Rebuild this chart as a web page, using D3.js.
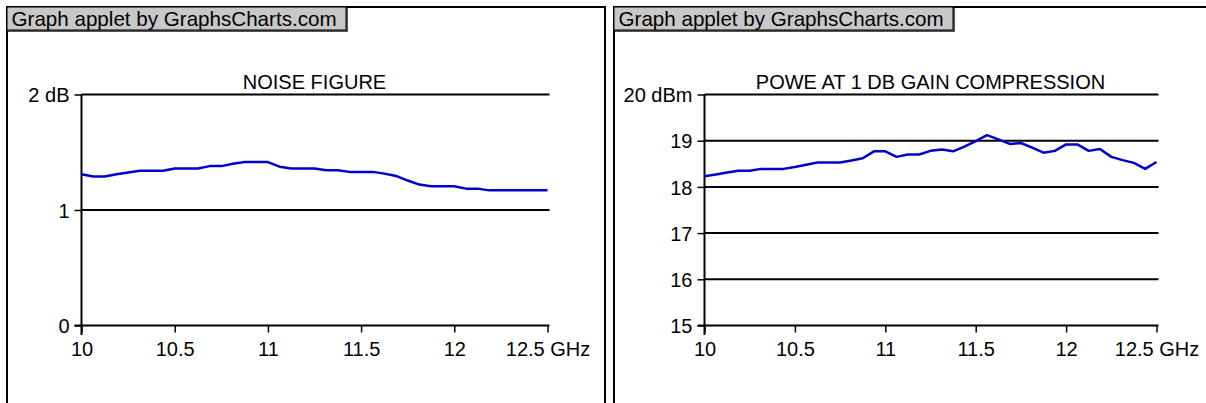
<!DOCTYPE html>
<html>
<head>
<meta charset="utf-8">
<script src="https://cdn.jsdelivr.net/npm/d3@7"></script>
<style>
  body { margin: 0; background: #fff; }
  svg { display: block; font-family: "Liberation Sans", Arial, sans-serif; }
</style>
</head>
<body>
<div id="chart"></div>
<script>
// frequency points (GHz), shared by both charts
const freqs = [10, 10.0625, 10.125, 10.1875, 10.25, 10.3125, 10.375, 10.4375, 10.5, 10.5625,
  10.625, 10.6875, 10.75, 10.8125, 10.875, 10.9375, 11, 11.0625, 11.125, 11.1875,
  11.25, 11.3125, 11.375, 11.4375, 11.5, 11.5625, 11.625, 11.6875, 11.75, 11.8125,
  11.875, 11.9375, 12, 12.0625, 12.125, 12.1875, 12.25, 12.3125, 12.375, 12.4375, 12.5];

// noise figure (dB)
const noiseFigure = [1.31, 1.29, 1.29, 1.31, 1.325, 1.34, 1.34, 1.34, 1.36, 1.36,
  1.36, 1.38, 1.38, 1.40, 1.415, 1.415, 1.415, 1.375, 1.36, 1.36,
  1.36, 1.345, 1.345, 1.33, 1.33, 1.33, 1.315, 1.295, 1.255, 1.22,
  1.205, 1.205, 1.205, 1.185, 1.185, 1.17, 1.17, 1.17, 1.17, 1.17, 1.17];

// output power at 1 dB gain compression (dBm)
const p1dB = [18.23, 18.27, 18.31, 18.35, 18.35, 18.39, 18.39, 18.39, 18.43, 18.48,
  18.53, 18.53, 18.53, 18.57, 18.62, 18.77, 18.77, 18.65, 18.70, 18.70,
  18.78, 18.81, 18.77, 18.87, 18.99, 19.12, 19.03, 18.93, 18.95, 18.85,
  18.74, 18.78, 18.92, 18.92, 18.78, 18.82, 18.65, 18.58, 18.52, 18.39, 18.54];

const xTicks = [10, 10.5, 11, 11.5, 12, 12.5];
const xTickLabels = ["10", "10.5", "11", "11.5", "12", "12.5 GHz"];

const nfTicks = [0, 1, 2];
const nfTickLabels = ["0", "1", "2 dB"];

const pTicks = [15, 16, 17, 18, 19, 20];
const pTickLabels = ["15", "16", "17", "18", "19", "20 dBm"];

const width = 1206, height = 403;
const svg = d3.select("#chart").append("svg")
  .attr("width", width)
  .attr("height", height);

// one applet panel with its own scales
function drawPanel(opt) {
  const g = svg.append("g");

  // applet frame (runs past the bottom of the window)
  g.append("path")
    .attr("d", `M${opt.left},${height + 5} V7 H${opt.right}` + (opt.closed ? ` V${height + 5}` : ""))
    .attr("fill", "none")
    .attr("stroke", "#000")
    .attr("stroke-width", 2);

  // credit box
  const hb = g.append("g").attr("transform", `translate(${opt.left},7)`);
  hb.append("rect")
    .attr("x", 1).attr("y", 1)
    .attr("width", 340).attr("height", 24)
    .attr("fill", "#555");
  hb.append("rect")
    .attr("x", 0).attr("y", 0)
    .attr("width", 339).attr("height", 23)
    .attr("fill", "#c8c8c8")
    .attr("stroke", "#000")
    .attr("stroke-width", 1);
  hb.append("text")
    .attr("x", 4.5).attr("y", 19)
    .attr("font-size", 20.6)
    .attr("fill", "#000")
    .text("Graph applet by GraphsCharts.com");

  const x = d3.scaleLinear().domain([10, 12.5]).range(opt.xRange);
  const y = d3.scaleLinear().domain(opt.yDomain).range([325.5, 94.5]);

  // horizontal grid lines
  g.append("g").selectAll("line")
    .data(opt.yTicks.slice(1))
    .join("line")
    .attr("x1", opt.xRange[0]).attr("x2", opt.xRange[1] + 2)
    .attr("y1", d => y(d)).attr("y2", d => y(d))
    .attr("stroke", "#000")
    .attr("stroke-width", 2);

  // y axis
  const yAxis = d3.axisLeft(y)
    .tickValues(opt.yTicks)
    .tickSize(7)
    .tickPadding(5)
    .tickFormat((d, i) => opt.yLabels[i]);
  const ya = g.append("g")
    .attr("transform", `translate(${opt.xRange[0]},0)`)
    .call(yAxis);
  ya.select(".domain").remove();
  ya.selectAll("line").attr("stroke", "#000").attr("stroke-width", 1.5);
  ya.selectAll("text").attr("font-size", 20).attr("font-family", null).attr("fill", "#000").attr("dy", "0.36em");
  g.append("line")
    .attr("x1", opt.xRange[0]).attr("x2", opt.xRange[0])
    .attr("y1", y(opt.yDomain[1])).attr("y2", 335)
    .attr("stroke", "#000").attr("stroke-width", 2);

  // x axis
  const xAxis = d3.axisBottom(x)
    .tickValues(xTicks)
    .tickSize(7)
    .tickPadding(9)
    .tickFormat((d, i) => xTickLabels[i]);
  const xa = g.append("g")
    .attr("transform", `translate(0,${y(opt.yDomain[0])})`)
    .call(xAxis);
  xa.select(".domain").remove();
  xa.selectAll("line").attr("stroke", "#000").attr("stroke-width", 1.5);
  xa.selectAll("text").attr("font-size", 20).attr("font-family", null).attr("fill", "#000");
  g.append("line")
    .attr("x1", opt.xRange[0] - 7).attr("x2", opt.xRange[1] + 2)
    .attr("y1", y(opt.yDomain[0])).attr("y2", y(opt.yDomain[0]))
    .attr("stroke", "#000").attr("stroke-width", 2);

  // title
  g.append("text")
    .attr("x", (opt.xRange[0] + opt.xRange[1]) / 2)
    .attr("y", 89)
    .attr("text-anchor", "middle")
    .attr("font-size", 20)
    .text(opt.title);

  // data line
  const line = d3.line()
    .x((d, i) => x(freqs[i]))
    .y(d => y(d));
  g.append("path")
    .datum(opt.values)
    .attr("fill", "none")
    .attr("stroke", "#0000cc")
    .attr("stroke-width", 2.5)
    .attr("stroke-linejoin", "round")
    .attr("d", line);
}

drawPanel({
  left: 7, right: 605, closed: true,
  xRange: [81.5, 547.5],
  yDomain: [0, 2], yTicks: nfTicks, yLabels: nfTickLabels,
  title: "NOISE FIGURE",
  values: noiseFigure
});

drawPanel({
  left: 614, right: width + 5, closed: false,
  xRange: [704.5, 1156.5],
  yDomain: [15, 20], yTicks: pTicks, yLabels: pTickLabels,
  title: "POWE AT 1 DB GAIN COMPRESSION",
  values: p1dB
});
</script>
</body>
</html>
